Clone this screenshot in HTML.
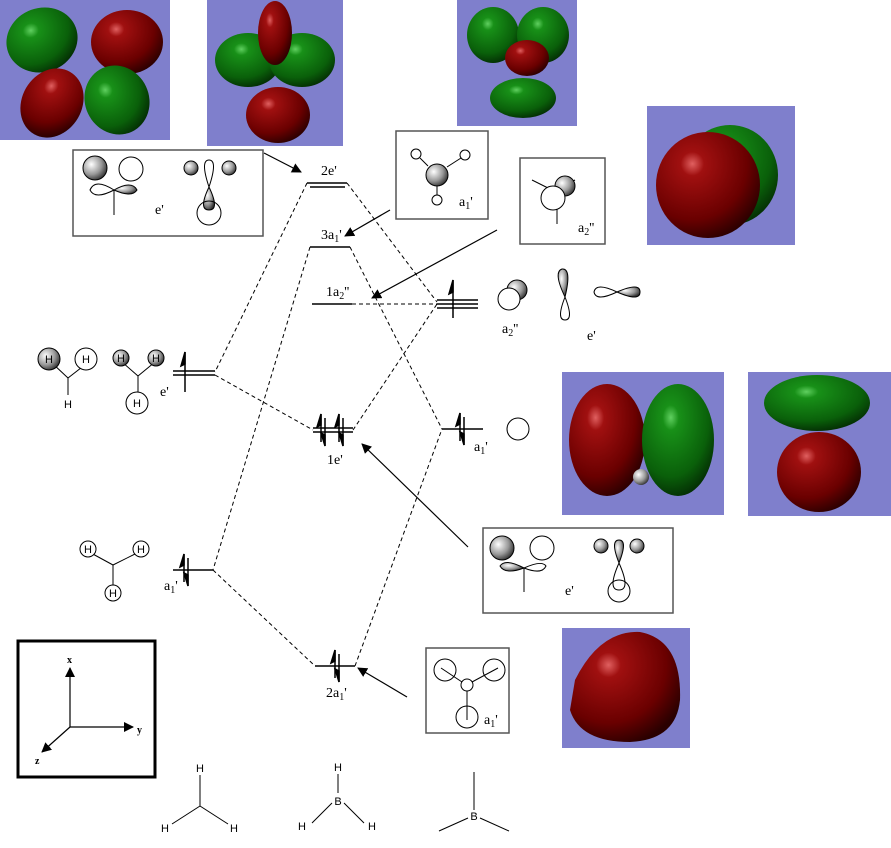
<!DOCTYPE html>
<html><head><meta charset="utf-8"><style>html,body{margin:0;padding:0;background:#fff}svg{display:block}</style></head>
<body>
<svg width="891" height="848" viewBox="0 0 891 848" xmlns="http://www.w3.org/2000/svg" font-family="Liberation Serif, serif">
<defs>
<radialGradient id="red" cx="35%" cy="30%" r="75%"><stop offset="0" stop-color="#e06060"/><stop offset="0.15" stop-color="#a01010"/><stop offset="0.7" stop-color="#6a0000"/><stop offset="1" stop-color="#2a0000"/></radialGradient>
<radialGradient id="grn" cx="40%" cy="30%" r="75%"><stop offset="0" stop-color="#60d060"/><stop offset="0.15" stop-color="#189018"/><stop offset="0.7" stop-color="#0a600a"/><stop offset="1" stop-color="#032803"/></radialGradient>
<radialGradient id="gs" cx="35%" cy="35%" r="70%"><stop offset="0" stop-color="#fff"/><stop offset="0.6" stop-color="#999"/><stop offset="1" stop-color="#333"/></radialGradient>
<marker id="ah" markerWidth="10" markerHeight="10" refX="9" refY="5" orient="auto" markerUnits="userSpaceOnUse"><path d="M0,0 L10,5 L0,10 z" fill="#000"/></marker>
</defs>
<!-- purple panels -->
<g fill="#7f7fcc">
<rect x="0" y="0" width="170" height="140"/><rect x="207" y="0" width="136" height="146"/>
<rect x="457" y="0" width="120" height="126"/><rect x="647" y="106" width="148" height="139"/>
<rect x="562" y="372" width="162" height="143"/><rect x="748" y="372" width="143" height="144"/>
<rect x="562" y="628" width="128" height="120"/>
</g>
<!-- blobs -->
<ellipse cx="42" cy="40" rx="36" ry="32" fill="url(#grn)" transform="rotate(-20 42 40)"/>
<ellipse cx="127" cy="42" rx="36" ry="32" fill="url(#red)"/>
<ellipse cx="52" cy="103" rx="30" ry="36" fill="url(#red)" transform="rotate(30 52 103)"/>
<ellipse cx="117" cy="100" rx="32" ry="35" fill="url(#grn)" transform="rotate(-25 117 100)"/>
<ellipse cx="248" cy="60" rx="33" ry="27" fill="url(#grn)"/>
<ellipse cx="302" cy="60" rx="33" ry="27" fill="url(#grn)"/>
<ellipse cx="275" cy="33" rx="17" ry="32" fill="url(#red)"/>
<ellipse cx="278" cy="115" rx="32" ry="28" fill="url(#red)"/>
<ellipse cx="493" cy="35" rx="26" ry="28" fill="url(#grn)"/>
<ellipse cx="543" cy="35" rx="26" ry="28" fill="url(#grn)"/>
<ellipse cx="523" cy="98" rx="33" ry="20" fill="url(#grn)"/>
<ellipse cx="527" cy="58" rx="22" ry="18" fill="url(#red)"/>
<ellipse cx="730" cy="175" rx="48" ry="50" fill="url(#grn)"/>
<ellipse cx="708" cy="185" rx="52" ry="53" fill="url(#red)"/>
<ellipse cx="607" cy="440" rx="38" ry="56" fill="url(#red)"/>
<ellipse cx="678" cy="440" rx="36" ry="56" fill="url(#grn)"/>
<circle cx="641" cy="477" r="8" fill="url(#gs)"/>
<ellipse cx="817" cy="403" rx="53" ry="28" fill="url(#grn)"/>
<ellipse cx="819" cy="472" rx="42" ry="40" fill="url(#red)"/>
<path d="M575,680 Q600,630 640,632 Q682,640 680,700 Q676,740 630,742 Q580,742 570,710 Z" fill="url(#red)"/>
<!-- boxes -->
<g fill="none" stroke="#555" stroke-width="1.5">
<rect x="73" y="150" width="190" height="86"/><rect x="396" y="131" width="92" height="88"/>
<rect x="520" y="158" width="85" height="86"/><rect x="483" y="528" width="190" height="85"/>
<rect x="426" y="648" width="83" height="85"/>
</g>
<rect x="18" y="641" width="137" height="136" fill="none" stroke="#000" stroke-width="3"/>
<g stroke="#000" stroke-width="1" fill="none">
<circle cx="95" cy="168" r="12" fill="url(#gs)"/><circle cx="131" cy="169" r="12" fill="#fff"/>
<path d="M114,190 Q95,178 90,190 Q95,200 114,190 Z"/><path d="M114,190 Q132,180 137,190 Q132,198 114,190 Z" fill="url(#gs)"/>
<line x1="114" y1="190" x2="114" y2="215"/>
<circle cx="191" cy="168" r="7" fill="url(#gs)"/><circle cx="229" cy="168" r="7" fill="url(#gs)"/>
<path d="M209,187 Q200,160 209,160 Q218,160 209,187Z"/>
<path d="M209,187 Q198,210 209,210 Q220,210 209,187Z" fill="url(#gs)"/><circle cx="209" cy="213" r="12"/>
<circle cx="437" cy="175" r="11" fill="url(#gs)"/><circle cx="416" cy="154" r="5" fill="#fff"/><circle cx="465" cy="155" r="5" fill="#fff"/><circle cx="437" cy="200" r="5" fill="#fff"/>
<line x1="420" y1="158" x2="428" y2="166"/><line x1="447" y1="167" x2="461" y2="158"/><line x1="437" y1="186" x2="437" y2="195"/>
<line x1="532" y1="180" x2="548" y2="188"/><line x1="575" y1="180" x2="560" y2="188"/><line x1="557" y1="200" x2="557" y2="224"/>
<circle cx="565" cy="186" r="10" fill="url(#gs)"/><circle cx="553" cy="198" r="12" fill="#fff"/>
<circle cx="517" cy="290" r="10" fill="url(#gs)"/><circle cx="509" cy="299" r="11" fill="#fff"/>
<path d="M565,297 Q553,272 562,269 Q572,268 565,297Z" fill="url(#gs)"/><path d="M565,297 Q556,320 565,320 Q574,320 565,297Z"/>
<path d="M617,292 Q596,282 594,292 Q596,302 617,292Z"/><path d="M617,292 Q640,282 640,292 Q640,302 617,292Z" fill="url(#gs)"/>
<circle cx="518" cy="429" r="11"/>
<circle cx="502" cy="548" r="12" fill="url(#gs)"/><circle cx="542" cy="548" r="12" fill="#fff"/>
<path d="M524,568 Q505,558 500,566 Q505,575 524,568Z" fill="url(#gs)"/><path d="M524,568 Q542,560 546,566 Q542,575 524,568Z"/>
<line x1="524" y1="568" x2="524" y2="592"/>
<circle cx="601" cy="546" r="7" fill="url(#gs)"/><circle cx="637" cy="546" r="7" fill="url(#gs)"/>
<path d="M619,563 Q610,540 619,540 Q628,540 619,563Z" fill="url(#gs)"/><path d="M619,563 Q607,590 619,590 Q631,590 619,563Z"/><circle cx="619" cy="591" r="11"/>
<circle cx="445" cy="670" r="11"/><circle cx="494" cy="670" r="11"/><circle cx="467" cy="685" r="6"/><circle cx="467" cy="717" r="11"/>
<line x1="441" y1="668" x2="462" y2="682"/><line x1="498" y1="668" x2="472" y2="682"/><line x1="467" y1="691" x2="467" y2="720"/>
</g>
<g stroke="#000" stroke-width="1" font-family="Liberation Sans, sans-serif" font-size="11" text-anchor="middle">
<line x1="52" y1="363" x2="68" y2="378"/><line x1="86" y1="364" x2="68" y2="378"/><line x1="68" y1="378" x2="68" y2="395"/>
<circle cx="49" cy="359" r="11" fill="url(#gs)"/><circle cx="86" cy="359" r="11" fill="#fff"/>
<line x1="122" y1="362" x2="138" y2="376"/><line x1="155" y1="362" x2="138" y2="376"/><line x1="138" y1="376" x2="138" y2="392"/>
<circle cx="121" cy="358" r="8" fill="url(#gs)"/><circle cx="156" cy="358" r="8" fill="url(#gs)"/><circle cx="137" cy="403" r="11" fill="#fff"/>
<line x1="91" y1="553" x2="113" y2="565"/><line x1="137" y1="553" x2="113" y2="565"/><line x1="113" y1="565" x2="113" y2="587"/>
<circle cx="88" cy="549" r="8" fill="#fff"/><circle cx="141" cy="549" r="8" fill="#fff"/><circle cx="113" cy="593" r="8" fill="#fff"/>
<g stroke="none" fill="#000">
<text x="49" y="363">H</text><text x="86" y="363">H</text><text x="68" y="408">H</text>
<text x="121" y="362">H</text><text x="156" y="362">H</text><text x="137" y="407">H</text>
<text x="88" y="553">H</text><text x="141" y="553">H</text><text x="113" y="597">H</text>
</g>
</g>
<!-- levels -->
<g stroke="#000" stroke-width="1.5">
<line x1="307" y1="183" x2="347" y2="183"/><line x1="310" y1="187" x2="345" y2="187"/>
<line x1="310" y1="247" x2="350" y2="247"/>
<line x1="312" y1="304" x2="352" y2="304"/>
<line x1="313" y1="428" x2="353" y2="428"/><line x1="313" y1="432" x2="353" y2="432"/>
<line x1="315" y1="666" x2="355" y2="666"/>
<line x1="173" y1="371" x2="215" y2="371"/><line x1="173" y1="375" x2="215" y2="375"/>
<line x1="173" y1="570" x2="213" y2="570"/>
<line x1="437" y1="300" x2="478" y2="300"/><line x1="437" y1="304" x2="478" y2="304"/><line x1="437" y1="308" x2="478" y2="308"/>
<line x1="442" y1="429" x2="483" y2="429"/>
</g>
<!-- spins -->
<g stroke="#000" stroke-width="1.5" fill="#000">
<line x1="185" y1="392" x2="185" y2="352"/><path d="M185,352 L181,366 L185,364Z"/>
<line x1="453" y1="318" x2="453" y2="280"/><path d="M453,280 L449,294 L453,292Z"/>
<line x1="321" y1="442" x2="321" y2="414"/><path d="M321,414 L317,427 L321,425Z"/>
<line x1="325" y1="418" x2="325" y2="446"/><path d="M325,446 L321,433 L325,435Z"/>
<line x1="339" y1="442" x2="339" y2="414"/><path d="M339,414 L335,427 L339,425Z"/>
<line x1="343" y1="418" x2="343" y2="446"/><path d="M343,446 L339,433 L343,435Z"/>
<line x1="335" y1="678" x2="335" y2="650"/><path d="M335,650 L331,663 L335,661Z"/>
<line x1="339" y1="654" x2="339" y2="682"/><path d="M339,682 L335,669 L339,671Z"/>
<line x1="184" y1="582" x2="184" y2="554"/><path d="M184,554 L180,567 L184,565Z"/>
<line x1="188" y1="558" x2="188" y2="586"/><path d="M188,586 L184,573 L188,575Z"/>
<line x1="460" y1="441" x2="460" y2="413"/><path d="M460,413 L456,426 L460,424Z"/>
<line x1="464" y1="417" x2="464" y2="445"/><path d="M464,445 L460,432 L464,434Z"/>
</g>
<!-- dashed -->
<g stroke="#000" stroke-width="1" stroke-dasharray="4,3" fill="none">
<polyline points="307,183 215,372"/><polyline points="215,375 313,430"/>
<polyline points="310,247 213,570"/><polyline points="213,570 315,666"/>
<polyline points="347,183 437,302"/><polyline points="350,247 442,429"/>
<polyline points="352,304 437,304"/><polyline points="353,430 437,304"/>
<polyline points="355,666 442,429"/>
</g>
<g stroke="#000" stroke-width="1.2" marker-end="url(#ah)">
<line x1="264" y1="153" x2="301" y2="172"/><line x1="390" y1="210" x2="345" y2="236"/>
<line x1="497" y1="230" x2="372" y2="298"/><line x1="468" y1="547" x2="362" y2="444"/>
<line x1="407" y1="697" x2="358" y2="668"/>
</g>
<g stroke="#000" stroke-width="1.2" marker-end="url(#ah)">
<line x1="70" y1="727" x2="70" y2="668"/><line x1="70" y1="727" x2="133" y2="727"/><line x1="70" y1="727" x2="42" y2="752"/>
</g>
<g font-size="10" font-weight="bold"><text x="67" y="663">x</text><text x="137" y="733">y</text><text x="35" y="764">z</text></g>
<g font-size="14" fill="#000">
<text x="321" y="175">2e'</text><text x="321" y="239">3a<tspan font-size="10" dy="3">1</tspan><tspan dy="-3">'</tspan></text>
<text x="326" y="296">1a<tspan font-size="10" dy="3">2</tspan><tspan dy="-3">''</tspan></text>
<text x="327" y="464">1e'</text><text x="326" y="697">2a<tspan font-size="10" dy="3">1</tspan><tspan dy="-3">'</tspan></text>
<text x="160" y="396">e'</text><text x="164" y="590">a<tspan font-size="10" dy="3">1</tspan><tspan dy="-3">'</tspan></text>
<text x="474" y="451">a<tspan font-size="10" dy="3">1</tspan><tspan dy="-3">'</tspan></text>
<text x="502" y="333">a<tspan font-size="10" dy="3">2</tspan><tspan dy="-3">''</tspan></text><text x="587" y="340">e'</text>
<text x="155" y="214">e'</text><text x="459" y="206">a<tspan font-size="10" dy="3">1</tspan><tspan dy="-3">'</tspan></text>
<text x="578" y="232">a<tspan font-size="10" dy="3">2</tspan><tspan dy="-3">''</tspan></text>
<text x="565" y="595">e'</text><text x="484" y="724">a<tspan font-size="10" dy="3">1</tspan><tspan dy="-3">'</tspan></text>
</g>
<g stroke="#000" stroke-width="1">
<line x1="200" y1="775" x2="200" y2="806"/><line x1="200" y1="806" x2="172" y2="824"/><line x1="200" y1="806" x2="228" y2="824"/>
<line x1="338" y1="774" x2="338" y2="793"/><line x1="332" y1="803" x2="312" y2="823"/><line x1="344" y1="803" x2="364" y2="823"/>
<line x1="474" y1="772" x2="474" y2="810"/><line x1="468" y1="818" x2="439" y2="831"/><line x1="480" y1="818" x2="509" y2="831"/>
</g>
<g font-family="Liberation Sans, sans-serif" font-size="11" text-anchor="middle">
<text x="200" y="772">H</text><text x="165" y="832">H</text><text x="234" y="832">H</text>
<text x="338" y="771">H</text><text x="338" y="805">B</text><text x="302" y="830">H</text><text x="372" y="830">H</text>
<text x="474" y="820">B</text>
</g>
</svg>
</body></html>
